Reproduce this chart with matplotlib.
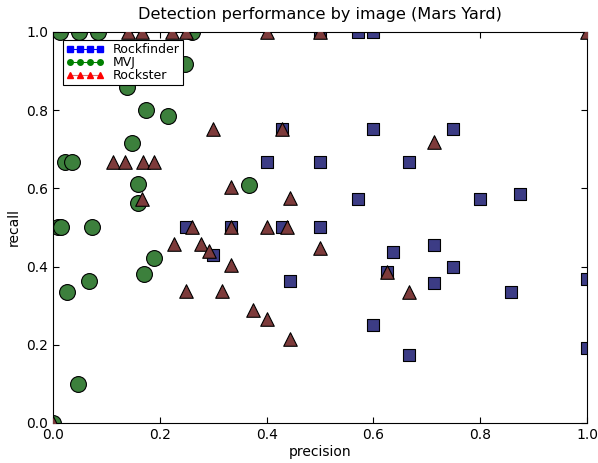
import matplotlib
matplotlib.use("Agg")
import matplotlib.pyplot as plt
from matplotlib.lines import Line2D

# values
rockfinder_prec = [0.572, 0.600, 0.50, 0.429, 0.40, 0.50, 0.60, 0.75, 0.667, 0.572, 0.80, 0.875,
                   0.50, 0.714, 0.636, 0.75, 0.625, 0.714, 0.857, 1.0, 0.60, 0.667, 1.0,
                   0.25, 0.333, 0.428, 0.30, 0.444]
rockfinder_rec = [1.0, 1.0, 1.0, 0.752, 0.667, 0.667, 0.751, 0.751, 0.667, 0.572, 0.572, 0.585,
                  0.50, 0.455, 0.438, 0.40, 0.387, 0.357, 0.334, 0.369, 0.25, 0.174, 0.191,
                  0.50, 0.50, 0.50, 0.43, 0.364]

mvj_prec = [0.0, 0.013, 0.049, 0.085, 0.26, 0.247, 0.139, 0.174, 0.216, 0.148, 0.022, 0.036,
            0.159, 0.160, 0.368, 0.010, 0.015, 0.074, 0.19, 0.170, 0.068, 0.026, 0.046]
mvj_rec = [0.0, 1.0, 1.0, 1.0, 1.0, 0.917, 0.859, 0.80, 0.786, 0.715, 0.667, 0.667,
           0.612, 0.563, 0.609, 0.50, 0.50, 0.50, 0.421, 0.382, 0.364, 0.334, 0.101]

rockster_prec = [0.0, 0.14, 0.167, 0.222, 0.25, 0.40, 0.50, 1.0, 0.30, 0.429, 0.713,
                 0.112, 0.134, 0.168, 0.190, 0.333, 0.444, 0.167,
                 0.261, 0.333, 0.40, 0.438, 0.227, 0.277, 0.292, 0.333, 0.25, 0.316,
                 0.375, 0.40, 0.444, 0.50, 0.625, 0.667]
rockster_rec = [0.0, 1.0, 1.0, 1.0, 1.0, 1.0, 1.0, 1.0, 0.752, 0.752, 0.718,
                0.667, 0.667, 0.667, 0.667, 0.604, 0.575, 0.573,
                0.502, 0.502, 0.502, 0.502, 0.458, 0.458, 0.441, 0.403, 0.338, 0.338,
                0.289, 0.265, 0.214, 0.447, 0.387, 0.336]

plt.rcParams["font.family"] = "DejaVu Sans"

fig = plt.figure(figsize=(5.98, 4.63), dpi=100)
ax = fig.add_axes([0.0886, 0.0864, 0.893, 0.8445])

ax.scatter(mvj_prec, mvj_rec, s=130, marker="o", c="#3c803c", edgecolors="black",
           linewidths=0.8, zorder=2, clip_on=True)
ax.scatter(rockster_prec, rockster_rec, s=95, marker="^", c="#7d3b3b", edgecolors="black",
           linewidths=0.8, zorder=3, clip_on=True)
ax.scatter(rockfinder_prec, rockfinder_rec, s=75, marker="s", c="#3c3c85", edgecolors="black",
           linewidths=0.8, zorder=2.5, clip_on=True)

ax.set_xlim(0, 1)
ax.set_ylim(0, 1)
ax.set_xticks([0, 0.2, 0.4, 0.6, 0.8, 1.0])
ax.set_yticks([0, 0.2, 0.4, 0.6, 0.8, 1.0])
ax.tick_params(direction="in", top=True, right=True, length=4, labelsize=10)
ax.set_title("Detection performance by image (Mars Yard)", fontsize=11.6, pad=9)
ax.set_xlabel("precision", fontsize=10, labelpad=2)
ax.set_ylabel("recall", fontsize=10, labelpad=4)

handles = [
    Line2D([], [], color="b", marker="s", markersize=4, linewidth=0.8),
    Line2D([], [], color="g", marker="o", markersize=4, linewidth=0.8),
    Line2D([], [], color="#d07070", marker="^", markersize=4, linewidth=0.8,
           markerfacecolor="r", markeredgecolor="r"),
]
leg = ax.legend(handles, ["Rockfinder", "MVJ", "Rockster"], loc="upper left",
                bbox_to_anchor=(0.019, 0.98), numpoints=4, fontsize=9, fancybox=False,
                framealpha=1, edgecolor="black", borderpad=0.25, labelspacing=0.0,
                handlelength=3.0, handletextpad=0.75, borderaxespad=0.0)
leg.get_frame().set_linewidth(0.8)

fig.savefig("out.png", dpi=100)
